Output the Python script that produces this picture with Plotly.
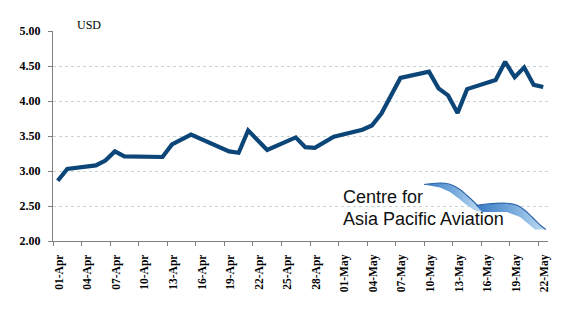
import pandas as pd
import plotly.graph_objects as go

# Daily price series (USD), trading days only
dates = [
    "2010-04-01", "2010-04-02", "2010-04-05", "2010-04-06", "2010-04-07",
    "2010-04-08", "2010-04-12", "2010-04-13", "2010-04-15", "2010-04-19",
    "2010-04-20", "2010-04-21", "2010-04-23", "2010-04-26", "2010-04-27",
    "2010-04-28", "2010-04-30", "2010-05-03", "2010-05-04", "2010-05-05",
    "2010-05-07", "2010-05-10", "2010-05-11", "2010-05-12", "2010-05-13",
    "2010-05-14", "2010-05-17", "2010-05-18", "2010-05-19", "2010-05-20",
    "2010-05-21", "2010-05-22",
]
prices = [
    2.86, 3.03, 3.08, 3.15, 3.28,
    3.21, 3.20, 3.38, 3.52, 3.28,
    3.26, 3.58, 3.30, 3.48, 3.34,
    3.33, 3.49, 3.59, 3.65, 3.82,
    4.33, 4.42, 4.18, 4.08, 3.83,
    4.17, 4.30, 4.56, 4.34, 4.48,
    4.23, 4.20,
]

tick_dates = [
    "2010-04-01", "2010-04-04", "2010-04-07", "2010-04-10", "2010-04-13",
    "2010-04-16", "2010-04-19", "2010-04-22", "2010-04-25", "2010-04-28",
    "2010-05-01", "2010-05-04", "2010-05-07", "2010-05-10", "2010-05-13",
    "2010-05-16", "2010-05-19", "2010-05-22",
]
tick_labels = [
    "01-Apr", "04-Apr", "07-Apr", "10-Apr", "13-Apr", "16-Apr", "19-Apr",
    "22-Apr", "25-Apr", "28-Apr", "01-May", "04-May", "07-May", "10-May",
    "13-May", "16-May", "19-May", "22-May",
]
y_ticks = [2.0, 2.5, 3.0, 3.5, 4.0, 4.5, 5.0]
y_labels = ["2.00", "2.50", "3.00", "3.50", "4.00", "4.50", "5.00"]

# each day is a slot between tick marks; points sit mid-slot
x_mid = pd.to_datetime(dates) + pd.Timedelta(hours=12)

fig = go.Figure()
fig.add_trace(go.Scatter(
    x=x_mid, y=prices, mode="lines",
    line=dict(color="#0c4678", width=4.2),
    hoverinfo="skip", showlegend=False,
))

# Logo swooshes, drawn in a pixel-space overlay
ribbon1_x = [424, 435, 445, 453, 460, 467, 473, 478, 482, 474, 466, 458, 450, 440, 430, 424]
ribbon1_y = [184.5, 183.3, 183.3, 185.5, 189.5, 195.5, 201, 206, 212.5, 210, 204.5, 198, 192, 187.5, 185.5, 184.5]
ribbon2_x = [476, 487, 507, 517, 525, 533, 540, 546, 535, 529, 520, 507, 482, 476]
ribbon2_y = [205.5, 204, 203.3, 205.3, 210.5, 218, 225, 229.5, 229.5, 224.5, 217, 212, 212, 205.5]
swoosh_scale = [[0, "#3a78c2"], [0.5, "#72a8dc"], [1, "#c2ddf3"]]
for rx, ry in ((ribbon1_x, ribbon1_y), (ribbon2_x, ribbon2_y)):
    fig.add_trace(go.Scatter(
        x=rx, y=ry, mode="lines", fill="toself",
        fillgradient=dict(type="horizontal", colorscale=swoosh_scale),
        line=dict(width=0), xaxis="x2", yaxis="y2",
        hoverinfo="skip", showlegend=False,
    ))
# thin leading edges of the swooshes
edge_x = [[424, 435, 445, 453, 460, 467, 473, 478], [476, 487, 507, 517, 525, 533, 540, 546]]
edge_y = [[184.5, 183.3, 183.3, 185.5, 189.5, 195.5, 201, 206], [205.5, 204, 203.3, 205.3, 210.5, 218, 225, 229.5]]
for ex, ey in zip(edge_x, edge_y):
    fig.add_trace(go.Scatter(
        x=ex, y=ey, mode="lines", line=dict(color="#2a64a8", width=1.1, shape="spline"),
        xaxis="x2", yaxis="y2", hoverinfo="skip", showlegend=False,
    ))

serif = "Liberation Serif"
tick_font = dict(family=serif, size=12, color="black")

fig.update_layout(
    width=570, height=330,
    margin=dict(l=53, r=22, t=31, b=89),
    paper_bgcolor="white", plot_bgcolor="white",
    xaxis=dict(
        range=["2010-04-01", "2010-05-23"],
        tickmode="array", tickvals=tick_dates,
        ticktext=[f"<b>{t}</b>" for t in tick_labels],
        tickangle=-90, tickfont=dict(tick_font, size=11.5),
        ticklabelshift=6, ticklabelstandoff=4,
        ticks="outside", ticklen=4, tickcolor="#808080",
        showline=True, linecolor="#808080", linewidth=1,
        showgrid=False, zeroline=False,
    ),
    yaxis=dict(
        range=[2, 5], tickmode="array", tickvals=y_ticks,
        ticktext=[f"<b>{t}</b>" for t in y_labels],
        tickfont=tick_font, ticklabelstandoff=5,
        ticks="outside", ticklen=4, tickcolor="#808080",
        showline=True, linecolor="#808080", linewidth=1,
        showgrid=True, gridcolor="#c8d4d4", griddash="dot", gridwidth=1,
        zeroline=False,
    ),
    xaxis2=dict(overlaying="x", range=[53, 548], visible=False, fixedrange=True),
    yaxis2=dict(overlaying="y", range=[241, 31], visible=False, fixedrange=True),
)

fig.add_annotation(
    xref="paper", yref="paper", x=(89 - 53) / 495, y=(241 - 24.5) / 210,
    text="USD", showarrow=False, xanchor="center", yanchor="middle",
    font=dict(family=serif, size=12, color="black"),
)
logo_font = dict(family="Liberation Sans", size=18, color="#111111")
fig.add_annotation(
    xref="x2", yref="y2", x=341, y=196.5, text="Centre for", showarrow=False,
    xanchor="left", yanchor="middle", font=logo_font,
)
fig.add_annotation(
    xref="x2", yref="y2", x=341, y=218.8, text="Asia Pacific Aviation", showarrow=False,
    xanchor="left", yanchor="middle", font=logo_font,
)

fig.write_html("out.html")
